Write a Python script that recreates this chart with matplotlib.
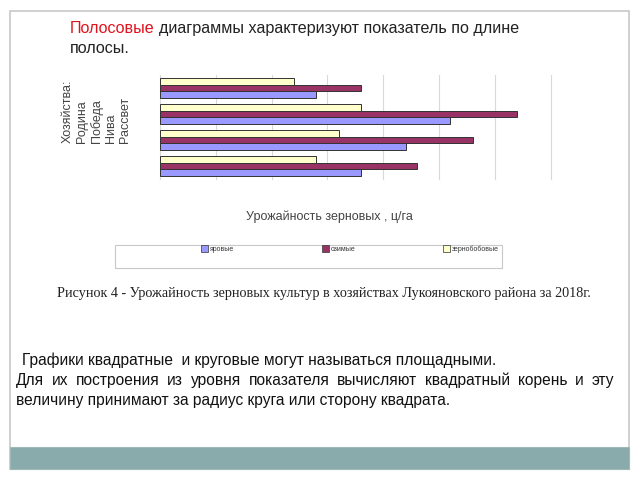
import matplotlib
matplotlib.use("Agg")
import matplotlib.pyplot as plt
from matplotlib.patches import Rectangle
import numpy as np

# ---- data ----
farms = ["Родина", "Победа", "Нива", "Рассвет"]          # bottom -> top
series_names = ["яровые", "озимые", "зернобобовые"]
yarovye = [18, 22, 26, 14]
ozimye = [23, 28, 32, 18]
zernobob = [14, 16, 18, 12]
series_colors = ["#9999ff", "#993366", "#ffffcc"]
x_ticks = [0, 5, 10, 15, 20, 25, 30, 35]
side_labels = ["Хозяйства:", "Родина", "Победа", "Нива", "Рассвет"]

W, H = 640, 480
fig = plt.figure(figsize=(6.4, 4.8), dpi=100)
fig.patch.set_facecolor("white")

def fx(px):
    return px / W

def fy(py):
    return 1 - py / H

# slide frame and band
fig.add_artist(Rectangle((fx(10), fy(469)), fx(619), (469 - 11) / H,
                         transform=fig.transFigure, fill=False,
                         edgecolor="#c8c8c8", lw=1.2))
fig.add_artist(Rectangle((fx(10), fy(469)), fx(619), (469 - 447) / H,
                         transform=fig.transFigure, facecolor="#8aabab",
                         edgecolor="#9fb8b8", lw=0.8))

sans = ["Liberation Sans", "DejaVu Sans"]
serif = ["Liberation Serif", "DejaVu Serif"]

# title text
TS = 11.6
t1 = fig.text(fx(70), fy(33), "Полосовые", color="#e0141e", fontsize=TS,
              family=sans, va="baseline", ha="left")
fig.canvas.draw()
bb = t1.get_window_extent()
fig.text(bb.x1 / W + fx(4), fy(33),
         "диаграммы характеризуют показатель по длине", color="#222222",
         fontsize=TS, family=sans, va="baseline", ha="left")
fig.text(fx(70), fy(53), "полосы.", color="#222222", fontsize=TS,
         family=sans, va="baseline", ha="left")

# chart axes
ax = fig.add_axes([fx(159.7), fy(179), fx(551 - 159.7), (179 - 75) / H])
y = np.arange(len(farms))
h = 0.26
vals = [yarovye, ozimye, zernobob]
for i, (name, v, c) in enumerate(zip(series_names, vals, series_colors)):
    ax.barh(y + (i - 1) * h, v, height=h, color=c, edgecolor="#333333",
            linewidth=0.7, zorder=3)
ax.set_xlim(0, 35)
ax.set_ylim(-0.5, len(farms) - 0.5)
ax.set_xticks(x_ticks)
ax.set_yticks([])
ax.tick_params(axis="x", length=0, labelbottom=False)
ax.grid(axis="x", color="#d9d9d9", lw=0.8, zorder=0)
for gl in ax.get_xgridlines():
    gl.set_clip_on(False)
for s in ax.spines.values():
    s.set_visible(False)

# side labels (rotated)
for xp, lab in zip([68, 82, 97, 111, 125], side_labels):
    fig.text(fx(xp), fy(143), lab, rotation=90, rotation_mode="anchor",
             ha="left", va="center", fontsize=9.0, color="#444444",
             family=sans)

# axis title
fig.text(fx(329), fy(217), "Урожайность зерновых , ц/га", ha="center",
         va="center", fontsize=9.0, color="#444444", family=sans)

# legend box
fig.add_artist(Rectangle((fx(115), fy(268)), fx(502 - 115), (268 - 245) / H,
                         transform=fig.transFigure, fill=False,
                         edgecolor="#c8c8c8", lw=0.8))
for xp, name, c in zip([201, 322, 443], series_names, series_colors):
    fig.add_artist(Rectangle((fx(xp), fy(252.5)), fx(7), 7 / H,
                             transform=fig.transFigure, facecolor=c,
                             edgecolor="#333333", lw=0.5))
    fig.text(fx(xp + 9), fy(249), name, ha="left", va="center",
             fontsize=5.0, color="#333333", family=sans)

# caption
fig.text(fx(57), fy(293),
         "Рисунок 4 - Урожайность зерновых культур в хозяйствах Лукояновского района за 2018г.",
         ha="left", va="center", fontsize=10.2, color="#222222", family=serif)

# paragraph
PS = 11.2
para = sans
fig.text(fx(22), fy(365),
         "Графики квадратные  и круговые могут называться площадными.",
         ha="left", va="baseline", fontsize=PS, color="#111111", family=para)

# justified second line
line2 = "Для их построения из уровня показателя вычисляют квадратный корень и эту"
words = line2.split()
tmp = [fig.text(0, 0, w, fontsize=PS, family=para) for w in words]
fig.canvas.draw()
r = fig.canvas.get_renderer()
widths = [t.get_window_extent(r).width for t in tmp]
for t in tmp:
    t.remove()
x0, x1 = 16, 614
gap = (x1 - x0 - sum(widths)) / (len(words) - 1)
xp = x0
for w, wd in zip(words, widths):
    fig.text(fx(xp), fy(385), w, ha="left", va="baseline", fontsize=PS,
             color="#111111", family=para)
    xp += wd + gap

fig.text(fx(16), fy(405),
         "величину принимают за радиус круга или сторону квадрата.",
         ha="left", va="baseline", fontsize=PS, color="#111111", family=para)

fig.savefig("out.png", dpi=100)
